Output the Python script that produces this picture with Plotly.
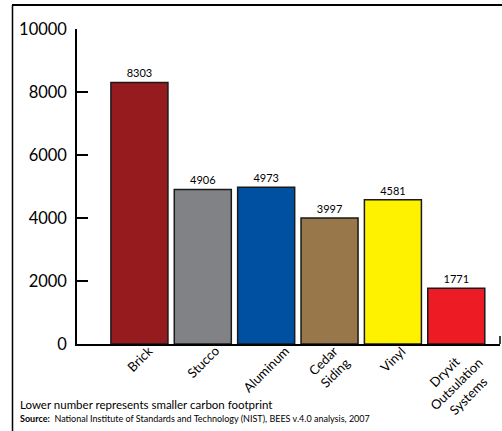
import plotly.graph_objects as go

categories = ["Brick", "Stucco", "Aluminum", "Cedar<br>Siding", "Vinyl", "Dryvit<br>Outsulation<br>Systems"]
values = [8303, 4906, 4973, 3997, 4581, 1771]
colors = ["#951B1E", "#808285", "#0050A2", "#98774A", "#FFF200", "#ED1C24"]
y_ticks = [0, 2000, 4000, 6000, 8000, 10000]
y_tick_text = ["0", "2000", "4000", "6000", "8000", "10000"]

FONT = "Lato"

x_pos = list(range(len(categories)))

fig = go.Figure(go.Bar(
    x=x_pos,
    y=values,
    text=[str(v) for v in values],
    textposition="outside",
    textfont=dict(size=11, color="black", family=FONT),
    marker=dict(color=colors, line=dict(color="#1a1a1a", width=1.5)),
    cliponaxis=False,
    width=0.9,
))

W, H = 502, 431
L, R, T, B = 77, 2, 29, 87
pw, ph = W - L - R, H - T - B

def px(xp):
    return (xp - L) / pw

def py(yp):
    return (H - B - yp) / ph

annotations = [
    dict(text=c, xref="x", yref="paper", x=xi, y=py(340), xanchor="center", yanchor="top",
         textangle=-45, align="center", showarrow=False, font=dict(size=13, family=FONT))
    for xi, c in zip(x_pos, categories)
]
annotations += [
    dict(text="Lower number represents smaller carbon footprint", xref="paper", yref="paper",
         x=px(18), y=py(404), xanchor="left", yanchor="middle", showarrow=False,
         font=dict(size=11.5, family=FONT)),
    dict(text="<b>Source:</b>  National Institute of Standards and Technology (NIST), BEES v.4.0 analysis, 2007",
         xref="paper", yref="paper", x=px(18), y=py(418), xanchor="left", yanchor="middle", showarrow=False,
         font=dict(size=9, family=FONT)),
]

fig.update_layout(
    width=W, height=H,
    margin=dict(l=L, r=R, t=T, b=B, pad=0),
    paper_bgcolor="white", plot_bgcolor="white",
    font=dict(family=FONT, color="black"),
    showlegend=False,
    xaxis=dict(
        range=[-0.985, 5.69],
        showticklabels=False,
        showline=True, linecolor="black", linewidth=1.5,
        showgrid=False, zeroline=False, ticks="",
        automargin=False,
    ),
    yaxis=dict(
        range=[0, 10000],
        tickvals=y_ticks,
        ticktext=y_tick_text,
        tickfont=dict(size=16.5),
        ticks="inside", ticklen=11, tickwidth=1.5, tickcolor="black",
        ticklabelstandoff=5,
        showline=True, linecolor="black", linewidth=1.5,
        showgrid=False, zeroline=False,
        automargin=False,
    ),
    shapes=[
        dict(type="line", xref="paper", yref="paper", x0=px(12.5), x1=px(12.5), y0=py(5), y1=py(431), line=dict(color="black", width=1.5)),
        dict(type="line", xref="paper", yref="paper", x0=px(12), x1=px(502), y0=py(5), y1=py(5), line=dict(color="black", width=2)),
        dict(type="line", xref="paper", yref="paper", x0=1, x1=1, y0=0, y1=py(336), line=dict(color="black", width=1.5)),
    ],
    annotations=annotations,
)

fig.write_html("out.html", config={"displayModeBar": False}, post_script="document.body.style.margin='0';")
